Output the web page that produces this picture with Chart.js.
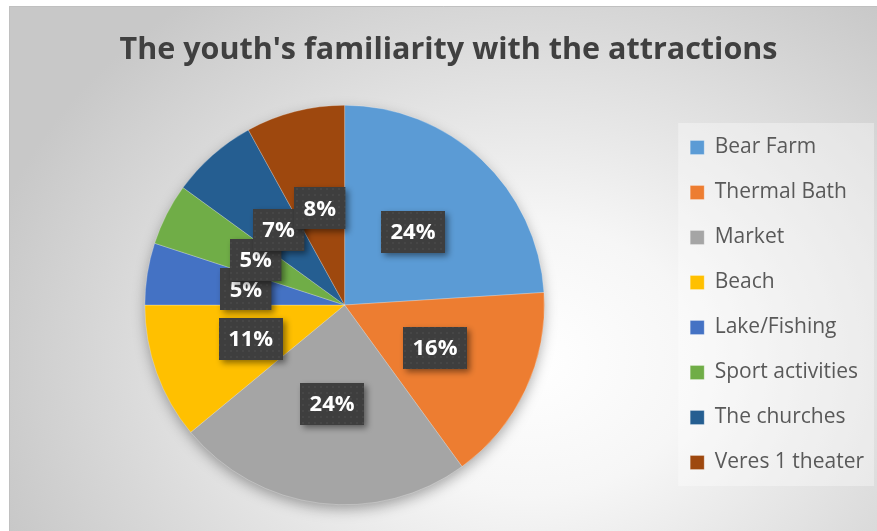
<!DOCTYPE html>
<html>
<head>
<meta charset="utf-8">
<script src="https://cdn.jsdelivr.net/npm/chart.js@4.4.1/dist/chart.umd.min.js"></script>
<style>
  html, body { margin: 0; padding: 0; background: #fff; }
  #wrap { width: 877px; height: 531px; }
</style>
</head>
<body>
<div id="wrap"><canvas id="pieChart" width="877" height="531"></canvas></div>
<script>
// data
const attractions = ["Bear Farm", "Thermal Bath", "Market", "Beach", "Lake/Fishing", "Sport activities", "The churches", "Veres 1 theater"];
const familiarity = [24, 16, 24, 11, 5, 5, 7, 8];
const sliceColors = ["#5B9BD5", "#ED7D31", "#A5A5A5", "#FFC000", "#4472C4", "#70AD47", "#255E91", "#9E480E"];

// dotted dark fill for the value boxes
function labelPattern(ctx) {
  const c = document.createElement("canvas");
  c.width = 6; c.height = 6;
  const p = c.getContext("2d");
  p.fillStyle = "#3e3e3e";
  p.fillRect(0, 0, 6, 6);
  p.fillStyle = "#464646";
  p.fillRect(2, 2, 2, 2);
  return ctx.createPattern(c, "repeat");
}

const backdrop = {
  id: "backdrop",
  beforeDraw(chart) {
    const ctx = chart.ctx;
    const w = chart.width, h = chart.height;
    ctx.save();
    ctx.fillStyle = "#ffffff";
    ctx.fillRect(0, 0, w, h);
    // elliptical radial gradient
    ctx.save();
    ctx.beginPath();
    ctx.rect(9, 6, w - 9, h - 6);
    ctx.clip();
    ctx.translate(530, 360);
    ctx.scale(1, 420 / 520);
    const g = ctx.createRadialGradient(0, 0, 0, 0, 0, 560);
    g.addColorStop(0, "#ffffff");
    g.addColorStop(0.3, "#f6f6f6");
    g.addColorStop(1, "#c8c8c8");
    ctx.fillStyle = g;
    ctx.fillRect(-700, -700, 1400, 1400);
    ctx.restore();
    ctx.strokeStyle = "#c0c0c0";
    ctx.lineWidth = 1;
    ctx.beginPath();
    ctx.moveTo(9.5, h); ctx.lineTo(9.5, 6.5); ctx.lineTo(w, 6.5);
    ctx.stroke();

    // legend panel
    const boxes = chart.legend && chart.legend.legendHitBoxes;
    if (boxes && boxes.length) {
      const first = boxes[0], last = boxes[boxes.length - 1];
      const x0 = first.left - 12;
      const y0 = first.top - 14;
      const y1 = last.top + last.height + 13;
      ctx.fillStyle = "rgba(255,255,255,0.35)";
      ctx.fillRect(x0, y0, w - 3 - x0, y1 - y0);
    }
    ctx.restore();
  },
  beforeDatasetsDraw(chart) {
    const arc = chart.getDatasetMeta(0).data[0];
    if (!arc) return;
    const ctx = chart.ctx;
    ctx.save();
    ctx.shadowColor = "rgba(0,0,0,0.35)";
    ctx.shadowBlur = 14;
    ctx.shadowOffsetY = 5;
    ctx.fillStyle = "#a5a5a5";
    ctx.beginPath();
    ctx.arc(arc.x, arc.y, arc.outerRadius - 1, 0, Math.PI * 2);
    ctx.fill();
    ctx.restore();
  },
  afterDatasetsDraw(chart) {
    const ctx = chart.ctx;
    const meta = chart.getDatasetMeta(0);
    const data = chart.data.datasets[0].data;
    const total = data.reduce((a, b) => a + b, 0);
    const fill = labelPattern(ctx);
    ctx.save();
    ctx.font = "bold 22px 'Open Sans'";
    ctx.textAlign = "center";
    ctx.textBaseline = "middle";
    meta.data.forEach((arc, i) => {
      const pos = arc.tooltipPosition();
      const text = Math.round(data[i] / total * 100) + "%";
      const tw = ctx.measureText(text).width;
      const bw = tw + 19, bh = 42;
      const bx = Math.round(pos.x - bw / 2), by = Math.round(pos.y - bh / 2);
      ctx.save();
      ctx.shadowColor = "rgba(0,0,0,0.45)";
      ctx.shadowBlur = 6;
      ctx.shadowOffsetX = 3;
      ctx.shadowOffsetY = 3;
      ctx.fillStyle = fill;
      ctx.fillRect(bx, by, bw, bh);
      ctx.restore();
      ctx.fillStyle = "#ffffff";
      ctx.fillText(text, pos.x, pos.y + 1);
    });
    ctx.restore();
  }
};

new Chart(document.getElementById("pieChart"), {
  type: "pie",
  data: {
    labels: attractions,
    datasets: [
      {
        data: familiarity,
        backgroundColor: sliceColors,
        borderColor: "rgba(255,255,255,0.5)",
        borderWidth: 0.5,
      },
    ],
  },
  options: {
    responsive: false,
    animation: false,
    layout: { padding: { left: 23, right: 3, top: 0, bottom: 26 } },
    plugins: {
      tooltip: { enabled: false },
      title: {
        display: true,
        text: "The youth's familiarity with the attractions",
        color: "#404040",
        font: { family: "'Open Sans'", size: 30.5, weight: "bold", lineHeight: 1.2 },
        padding: { top: 32, bottom: 36.4 },
      },
      legend: {
        position: "right",
        fullSize: false,
        labels: {
          color: "#595959",
          font: { family: "'Open Sans'", size: 21 },
          boxWidth: 14,
          boxHeight: 14,
          padding: 24,
        },
      },
    },
  },
  plugins: [backdrop],
});
</script>
</body>
</html>
